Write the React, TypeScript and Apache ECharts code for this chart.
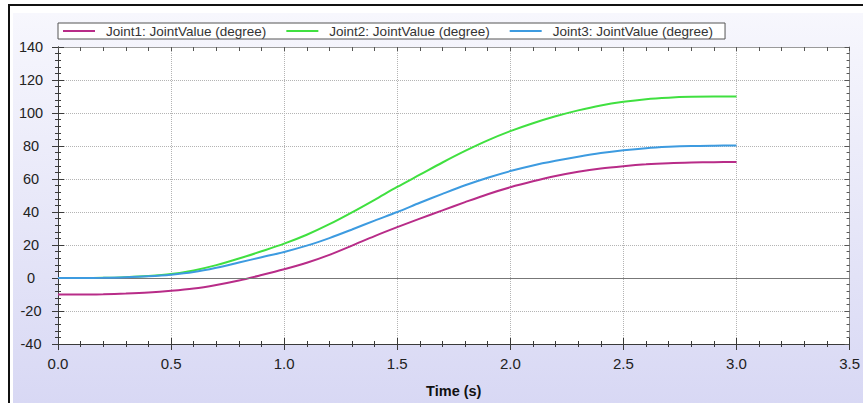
import React, { useEffect, useRef } from "react";
import * as echarts from "echarts";

const times = [0, 0.1, 0.2, 0.3, 0.4, 0.5, 0.6, 0.7, 0.8, 0.9, 1.0, 1.1, 1.2, 1.3, 1.4, 1.5, 1.6, 1.7, 1.8, 1.9, 2.0, 2.1, 2.2, 2.3, 2.4, 2.5, 2.6, 2.7, 2.8, 2.9, 3.0];
const joint1 = [-10, -10, -9.8, -9.4, -8.8, -7.8, -6.4, -4.2, -1.5, 1.8, 5.3, 9.2, 14, 19.6, 25.4, 30.8, 36, 41, 46, 50.8, 55, 58.6, 61.8, 64.4, 66.4, 67.8, 68.9, 69.6, 70, 70.2, 70.3];
const joint2 = [0, 0, 0.1, 0.5, 1.2, 2.4, 4.6, 7.8, 11.8, 16.2, 20.8, 26.2, 32.6, 39.8, 47.4, 55.2, 62.6, 70, 77, 83.4, 89, 93.8, 98, 101.6, 104.6, 106.8, 108.4, 109.3, 109.8, 110, 110];
const joint3 = [0, 0, 0.1, 0.4, 1.0, 2.0, 3.6, 6.2, 9.4, 12.6, 15.8, 19.6, 24.2, 29.4, 34.8, 40, 45.6, 51, 56.2, 60.8, 64.8, 68.2, 71, 73.5, 75.7, 77.4, 78.7, 79.5, 80, 80.2, 80.3];
const seriesNames = ["Joint1: JointValue (degree)", "Joint2: JointValue (degree)", "Joint3: JointValue (degree)"];
const seriesColors = ["#b82c88", "#40e040", "#3d9be0"];
const xName = "Time (s)";
const xRange = [0, 3.5, 0.5];
const yRange = [-40, 140, 20];

const font = "'Liberation Sans', Arial, Helvetica, sans-serif";

export default function App() {
  const ref = useRef<HTMLDivElement>(null);
  useEffect(() => {
    if (!ref.current) return;
    const chart = echarts.init(ref.current, undefined, { renderer: "svg" });
    const seriesData = [joint1, joint2, joint3];
    const xBase = { type: "value", min: xRange[0], max: xRange[1], interval: xRange[2], gridIndex: 0 };
    const yBase = { type: "value", min: yRange[0], max: yRange[1], interval: yRange[2], gridIndex: 0 };
    const dark = "#3a3a3a";
    chart.setOption({
      animation: false,
      graphic: [
        {
          type: "rect",
          z: -10,
          silent: true,
          shape: { x: 9, y: 5, width: 900, height: 450 },
          style: { fill: "#ffffff", stroke: "#111111", lineWidth: 2 },
        },
        {
          type: "rect",
          z: -9,
          silent: true,
          shape: { x: 13, y: 13, width: 900, height: 390 },
          style: {
            fill: new echarts.graphic.LinearGradient(0, 0, 0, 1, [
              { offset: 0, color: "#f7f7fd" },
              { offset: 1, color: "#d8d8f4" },
            ]),
          },
        },
      ],
      grid: { left: 58, top: 47, width: 797, height: 300, show: true, backgroundColor: "#ffffff", borderWidth: 0 },
      legend: {
        left: 58,
        top: 23,
        orient: "horizontal",
        icon: "rect",
        itemWidth: 32,
        itemHeight: 2,
        itemGap: 20,
        padding: [1, 12, 1, 5],
        borderColor: "#555555",
        borderWidth: 1,
        backgroundColor: "#ffffff",
        textStyle: { fontSize: 13.5, lineHeight: 14, color: "#333333", fontFamily: font, padding: [0, 0, 0, 6] },
        data: seriesNames,
      },
      xAxis: [
        {
          ...xBase,
          position: "bottom",
          axisLine: { show: true, onZero: false, lineStyle: { color: dark, width: 1 } },
          axisTick: { show: true, inside: false, length: 6, lineStyle: { color: dark } },
          minorTick: { show: true, splitNumber: 5, length: 3, lineStyle: { color: dark } },
          splitLine: { show: true, lineStyle: { color: "#b4b4b4", type: "dotted", width: 1 } },
          axisLabel: { show: true, margin: 12, fontSize: 15, color: "#222222", fontFamily: font, formatter: (v: number) => v.toFixed(1) },
          name: xName,
          nameLocation: "middle",
          nameGap: 39,
          nameTextStyle: { fontWeight: "bold", fontSize: 14.5, color: "#111111", fontFamily: font },
        },
        {
          ...xBase,
          position: "bottom",
          axisLine: { show: true, onZero: false, lineStyle: { color: dark, width: 1 } },
          axisTick: { show: true, inside: true, length: 6, lineStyle: { color: dark } },
          minorTick: { show: true, splitNumber: 5, length: 3, lineStyle: { color: dark } },
          splitLine: { show: false },
          axisLabel: { show: false },
        },
        {
          ...xBase,
          position: "top",
          axisLine: { show: true, onZero: false, lineStyle: { color: "#9a9a9a", width: 1 } },
          axisTick: { show: true, inside: true, length: 4, lineStyle: { color: "#555555" } },
          minorTick: { show: true, splitNumber: 5, length: 4, lineStyle: { color: "#555555" } },
          splitLine: { show: false },
          axisLabel: { show: false },
        },
      ],
      yAxis: [
        {
          ...yBase,
          position: "left",
          axisLine: { show: true, onZero: false, lineStyle: { color: dark, width: 1 } },
          axisTick: { show: true, inside: false, length: 6, lineStyle: { color: dark } },
          minorTick: { show: true, splitNumber: 5, length: 3, lineStyle: { color: dark } },
          splitLine: { show: true, lineStyle: { color: "#b4b4b4", type: "dotted", width: 1 } },
          axisLabel: { show: true, margin: 27, align: "center", fontSize: 14.5, color: "#222222", fontFamily: font },
        },
        {
          ...yBase,
          position: "left",
          axisLine: { show: true, onZero: false, lineStyle: { color: dark, width: 1 } },
          axisTick: { show: true, inside: true, length: 6, lineStyle: { color: dark } },
          minorTick: { show: true, splitNumber: 5, length: 3, lineStyle: { color: dark } },
          splitLine: { show: false },
          axisLabel: { show: false },
        },
        {
          ...yBase,
          position: "right",
          axisLine: { show: true, onZero: false, lineStyle: { color: "#8a8a8a", width: 1 } },
          axisTick: { show: true, inside: true, length: 5, lineStyle: { color: "#555555" } },
          minorTick: { show: true, splitNumber: 5, length: 3, lineStyle: { color: "#555555" } },
          splitLine: { show: false },
          axisLabel: { show: false },
        },
      ],
      series: seriesNames.map((name, si) => ({
        name,
        type: "line",
        xAxisIndex: 0,
        yAxisIndex: 0,
        data: times.map((t, i) => [t, seriesData[si][i]]),
        symbol: "none",
        showSymbol: false,
        smooth: 0.3,
        color: seriesColors[si],
        lineStyle: { color: seriesColors[si], width: 2 },
        z: 3 + si,
        markLine:
          si === 0
            ? {
                silent: true,
                symbol: ["none", "none"],
                label: { show: false },
                lineStyle: { color: "#777777", type: "solid", width: 1 },
                data: [{ yAxis: 0 }],
              }
            : undefined,
      })),
    });
    return () => chart.dispose();
  }, []);
  return (
    <div style={{ position: "fixed", left: 0, top: 0, width: 863, height: 403, background: "#ffffff" }}>
      <div ref={ref} style={{ width: 863, height: 403 }} />
    </div>
  );
}
